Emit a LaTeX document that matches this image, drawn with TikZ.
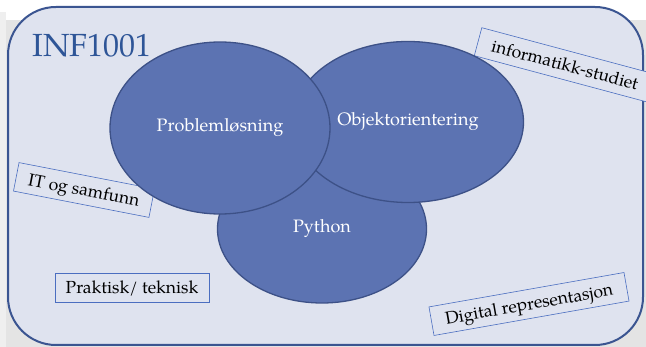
\documentclass[tikz,border=0pt]{standalone}
\usepackage{fontspec}
\setmainfont{TeX Gyre Pagella}
\usetikzlibrary{shapes.geometric,decorations.text,calc}
\definecolor{panelfill}{HTML}{DFE3EF}
\definecolor{panelline}{HTML}{3B5591}
\definecolor{blobfill}{HTML}{5C73B2}
\definecolor{blobline}{HTML}{3D5187}
\definecolor{tagline}{HTML}{4B6EC0}
\definecolor{titleblue}{HTML}{2E5597}
\definecolor{shadowgray}{HTML}{E4E4E4}
\begin{document}
\begin{tikzpicture}[x=1pt,y=1pt,
  blob/.style={ellipse, fill=blobfill, draw=blobline, line width=1.3pt,
    inner sep=0pt, text=white, font=\fontsize{18}{20}\selectfont},
  tagbox/.style={draw=tagline, line width=0.6pt, fill=panelfill,
    inner sep=0pt, minimum height=29pt},
  tagtext/.style={inner sep=0pt, font=\fontsize{17.5}{20}\selectfont},
  slanted label/.style={decorate, decoration={text along path,
    text={|\fontsize{17.5}{20}\selectfont|#1}, text align=center}}]
  % page and its soft shadow
  \fill[white] (0,0) rectangle (646,-347);
  \useasboundingbox (0,0) rectangle (646,-347);
  \begin{scope}
    \clip (0,0) rectangle (646,-347);
    \fill[shadowgray] (0,-20) rectangle (646,-347);
    \fill[shadowgray!60] (0,-12) rectangle (6,-347);
    \fill[panelfill, draw=panelline, line width=2pt, rounded corners=48pt]
      (8,-7) rectangle (643,-345);
    % label frames
    \node[tagbox, rotate=-15, minimum width=180pt] (studybox) at (565,-65) {};
    \node[tagbox, rotate=-11, minimum width=138pt] (societybox) at (84,-190) {};
    \node[tagbox, minimum width=154pt] (practicalbox) at (132,-288) {};
    \node[tagbox, rotate=10, minimum width=198pt] (digitalbox) at (529,-304) {};
    % label texts, set on the slanted base line of each frame
    \path[slanted label={informatikk-studiet}]
      ($(studybox.south west)!0.3!(studybox.north west)$) --
      ($(studybox.south east)!0.3!(studybox.north east)$);
    \path[slanted label={IT og samfunn}]
      ($(societybox.south west)!0.3!(societybox.north west)$) --
      ($(societybox.south east)!0.3!(societybox.north east)$);
    \path[slanted label={Digital representasjon}]
      ($(digitalbox.south west)!0.3!(digitalbox.north west)$) --
      ($(digitalbox.south east)!0.3!(digitalbox.north east)$);
    \node[tagtext] (practical) at (practicalbox.center) {Praktisk/ teknisk};
  \end{scope}
  % topic ellipses
  \node[blob, minimum width=209pt, minimum height=148pt] (python) at (322,-229) {Python};
  \node[blob, minimum width=231pt, minimum height=161pt] (objects) at (408,-122) {Objektorientering};
  \node[blob, minimum width=220pt, minimum height=172pt] (problems) at (220,-128) {Problemløsning};
  % course title
  \node[text=titleblue, font=\fontsize{32}{36}\selectfont, inner sep=0pt] (title) at (92,-46) {INF1001};
\end{tikzpicture}
\end{document}
